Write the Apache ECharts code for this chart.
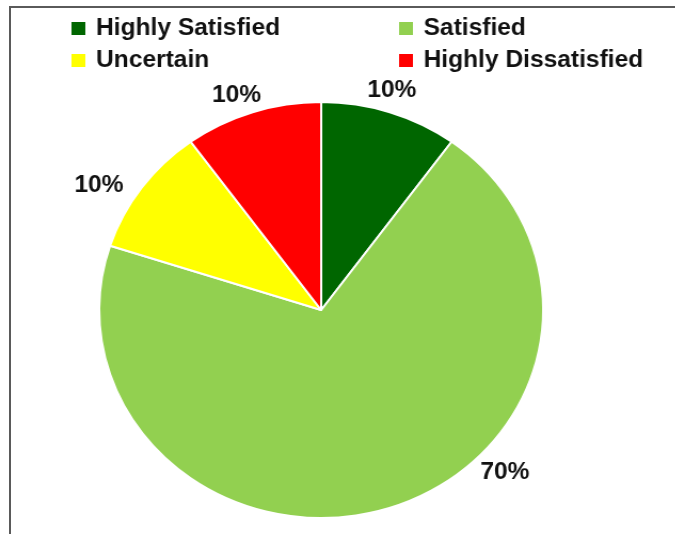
<!DOCTYPE html>
<html>
<head>
<meta charset="utf-8">
<script src="https://cdn.jsdelivr.net/npm/echarts@6/dist/echarts.min.js"></script>
<style>
  html, body { margin: 0; padding: 0; background: #ffffff; overflow: hidden; }
  #frame {
    position: absolute; left: 9px; top: 6px; width: 720px; height: 600px;
    border: 2px solid #5a5a5a; box-sizing: border-box;
  }
  #chart {
    position: absolute; left: 0; top: 0; width: 633px; height: 534px;
    transform: scaleX(1.067); transform-origin: 0 0;
  }
</style>
</head>
<body>
<div id="frame"></div>
<div id="chart"></div>
<script>
// Survey response shares (percent)
const categories = ['Highly Satisfied', 'Satisfied', 'Uncertain', 'Highly Dissatisfied'];
const shares = [10, 70, 10, 10];
const sliceColors = ['#006600', '#92d050', '#ffff00', '#ff0000'];

// Nudges for the percentage labels, relative to their default outside spot
const labelShift = [[-26, -22], [80, -35], [-12, -2], [13, -17]];

const chart = echarts.init(document.getElementById('chart'), null, { renderer: 'canvas' });

const legendText = {
  fontFamily: 'Liberation Sans, Arial, sans-serif',
  fontWeight: 'bold',
  fontSize: 23,
  color: '#111111',
  lineHeight: 20,
  padding: [0, 0, 0, 5]
};

const legendBase = {
  orient: 'vertical',
  top: 17,
  padding: 0,
  itemGap: 9,
  itemWidth: 13, itemHeight: 13,
  icon: 'rect',
  selectedMode: false,
  itemStyle: { borderWidth: 0 },
  textStyle: legendText
};

chart.setOption({
  animation: false,
  legend: [
    Object.assign({}, legendBase, { data: [categories[0], categories[2]], left: 67 }),
    Object.assign({}, legendBase, { data: [categories[1], categories[3]], left: 374 })
  ],
  series: [{
    type: 'pie',
    center: [301, 310],
    radius: 208,
    startAngle: 90,
    clockwise: true,
    avoidLabelOverlap: false,
    itemStyle: { borderColor: '#ffffff', borderWidth: 2 },
    label: {
      show: true,
      position: 'outside',
      formatter: p => p.value + '%',
      fontFamily: 'Liberation Sans, Arial, sans-serif',
      fontWeight: 'bold',
      fontSize: 23,
      color: '#111111'
    },
    labelLine: { show: false, length: 0, length2: 0 },
    labelLayout: params => {
      const s = labelShift[params.dataIndex];
      return { dx: s[0], dy: s[1] };
    },
    emphasis: { disabled: true },
    data: categories.map((name, i) => ({
      name: name,
      value: shares[i],
      itemStyle: { color: sliceColors[i] }
    }))
  }]
});
</script>
</body>
</html>
